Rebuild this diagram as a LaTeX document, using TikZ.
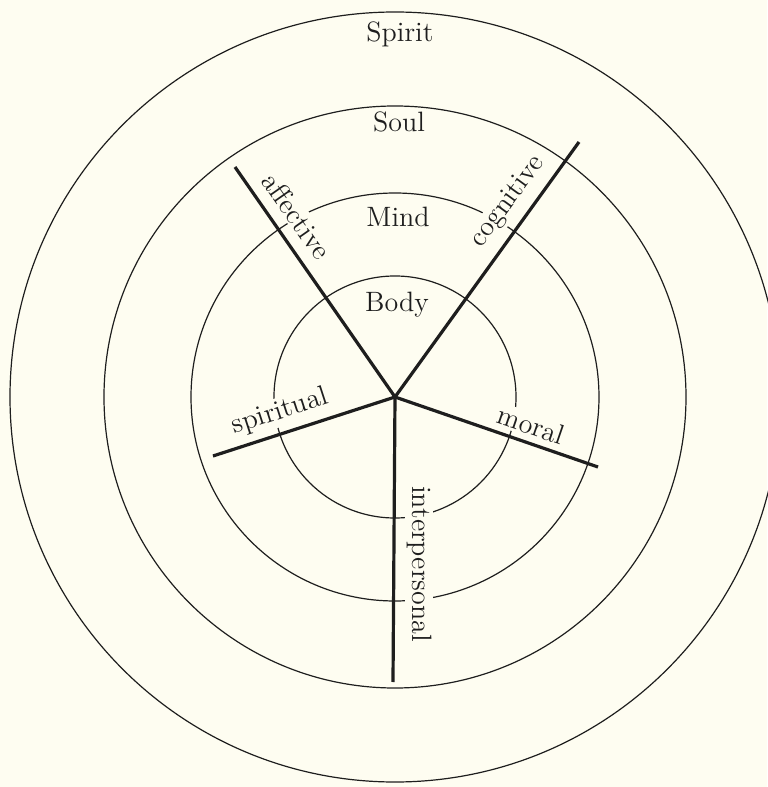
\documentclass[tikz,border=0pt]{standalone}
\usepackage{fontspec}
\usepackage{xcolor}
\usepackage{tikz}
\usetikzlibrary{positioning}
\definecolor{paper}{RGB}{254,253,241}
\definecolor{ink}{RGB}{30,30,30}

\begin{document}
\begin{tikzpicture}[
  x=0.5pt, y=0.5pt,
  ring/.style={draw=ink, line width=0.6pt},
  spoke/.style={draw=ink, line width=1.6pt},
  lvl/.style={inner sep=0pt, text=ink, font=\fontsize{14}{16}\selectfont},
  lbl/.style={fill=paper, inner sep=1pt, text=ink, font=\fontsize{14}{16}\selectfont}
]
  \path[fill=paper, use as bounding box] (-395,-390) rectangle (372,397);
  \coordinate (c) at (0,0);

  % the four rings
  \draw[ring] (c) circle[radius=121];
  \draw[ring] (c) circle[radius=204];
  \draw[ring] (c) circle[radius=291];
  \draw[ring] (c) circle[radius=385];

  \node[lvl] (spirit) at (5,363) {Spirit};
  \node[lvl] (soul) at (4,275) {Soul};
  \node[lvl] (mind) at (3,180) {Mind};
  \node[lvl] (body) at (2,92) {Body};

  % labels along the spokes (they blank the rings below them)
  \node[lbl, rotate=-55] (aff) at (-98,181) {affective};
  \node[lbl, rotate=54] (cog) at (113,195) {cognitive};
  \node[lbl, rotate=18] (spir) at (-115,-15) {spiritual};
  \node[lbl, rotate=-19] (mor) at (136,-28) {moral};
  \node[lbl, rotate=-90] (inter) at (24,-167) {interpersonal};

  \coordinate (affEnd) at (-160,230);
  \coordinate (cogEnd) at (184,255);
  \coordinate (spirEnd) at (-182,-59);
  \coordinate (morEnd) at (203,-70);
  \coordinate (interEnd) at (-2,-285);

  \draw[spoke] (c) -- (affEnd);
  \draw[spoke] (c) -- (cogEnd);
  \draw[spoke] (c) -- (spirEnd);
  \draw[spoke] (c) -- (morEnd);
  \draw[spoke] (c) -- (interEnd);
\end{tikzpicture}
\end{document}
